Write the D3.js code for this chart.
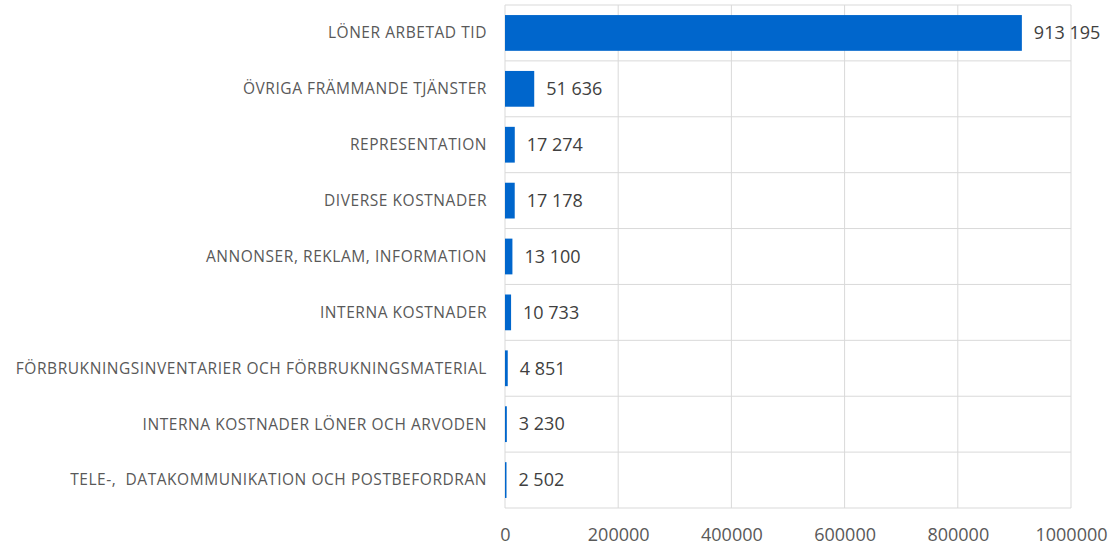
<!DOCTYPE html>
<html>
<head>
<meta charset="utf-8">
<script src="https://cdn.jsdelivr.net/npm/d3@7"></script>
<style>
  body { margin: 0; background: #fff; }
  text { font-family: "Open Sans", "Liberation Sans", sans-serif; }
</style>
</head>
<body>
<script>
var width = 1111;
var height = 546;

var categories = [
  "LÖNER ARBETAD TID",
  "ÖVRIGA FRÄMMANDE TJÄNSTER",
  "REPRESENTATION",
  "DIVERSE KOSTNADER",
  "ANNONSER, REKLAM, INFORMATION",
  "INTERNA KOSTNADER",
  "FÖRBRUKNINGSINVENTARIER OCH FÖRBRUKNINGSMATERIAL",
  "INTERNA KOSTNADER LÖNER OCH ARVODEN",
  "TELE-,  DATAKOMMUNIKATION OCH POSTBEFORDRAN"
];
var values = [913195, 51636, 17274, 17178, 13100, 10733, 4851, 3230, 2502];
var xTicks = [0, 200000, 400000, 600000, 800000, 1000000];

var plotLeft = 505, plotRight = 1071, plotTop = 5, plotBottom = 508;

var svg = d3.select("body")
            .append("svg")
            .attr("width", width)
            .attr("height", height);

var x = d3.scaleLinear().domain([0, 1000000]).range([plotLeft, plotRight]);
var y = d3.scaleBand().domain(categories).range([plotTop, plotBottom]).paddingInner(0.36).paddingOuter(0.18);

var sv = d3.formatLocale({decimal: ",", thousands: " ", grouping: [3], currency: ["", " kr"]});
var fmt = sv.format(",d");

// rutnät
svg.append("g")
   .selectAll("line")
   .data(xTicks)
   .enter()
   .append("line")
   .attr("x1", function(d){ return x(d); })
   .attr("x2", function(d){ return x(d); })
   .attr("y1", plotTop)
   .attr("y2", plotBottom)
   .attr("stroke", "#d9d9d9")
   .attr("stroke-width", 1);

// horisontella linjer mellan kategorier
var step = y.step();
svg.append("g")
   .selectAll("line")
   .data(d3.range(categories.length + 1))
   .enter()
   .append("line")
   .attr("x1", plotLeft)
   .attr("x2", plotRight)
   .attr("y1", function(i){ return plotTop + i * step; })
   .attr("y2", function(i){ return plotTop + i * step; })
   .attr("stroke", "#d9d9d9")
   .attr("stroke-width", 1);

// staplar
svg.append("g")
   .selectAll("rect")
   .data(values)
   .enter()
   .append("rect")
   .attr("x", x(0))
   .attr("y", function(d, i){ return y(categories[i]); })
   .attr("width", function(d){ return Math.max(1.5, x(d) - x(0)); })
   .attr("height", y.bandwidth())
   .attr("fill", "#0066cc");

// värdeetiketter
svg.append("g")
   .selectAll("text")
   .data(values)
   .enter()
   .append("text")
   .attr("x", function(d){ return x(d) + 12; })
   .attr("y", function(d, i){ return y(categories[i]) + y.bandwidth() / 2; })
   .attr("dy", "0.35em")
   .attr("font-size", "18px")
   .attr("fill", "#404040")
   .text(function(d){ return fmt(d); });

// kategorietiketter
svg.append("g")
   .selectAll("text")
   .data(categories)
   .enter()
   .append("text")
   .attr("x", 487)
   .attr("y", function(d){ return y(d) + y.bandwidth() / 2; })
   .attr("dy", "0.35em")
   .attr("text-anchor", "end")
   .attr("font-size", "15.5px")
   .attr("letter-spacing", "0.55px")
   .style("white-space", "pre")
   .attr("fill", "#595959")
   .text(function(d){ return d; });

// x-axel
var xAxis = d3.axisBottom(x).tickValues(xTicks).tickFormat(d3.format("d")).tickSize(0).tickPadding(20);
var gx = svg.append("g")
   .attr("transform", "translate(0," + plotBottom + ")")
   .call(xAxis);
gx.select(".domain").remove();
gx.selectAll("text")
  .attr("font-size", "18px")
  .attr("fill", "#595959")
  .attr("font-family", "'Open Sans', 'Liberation Sans', sans-serif");
</script>
</body>
</html>
